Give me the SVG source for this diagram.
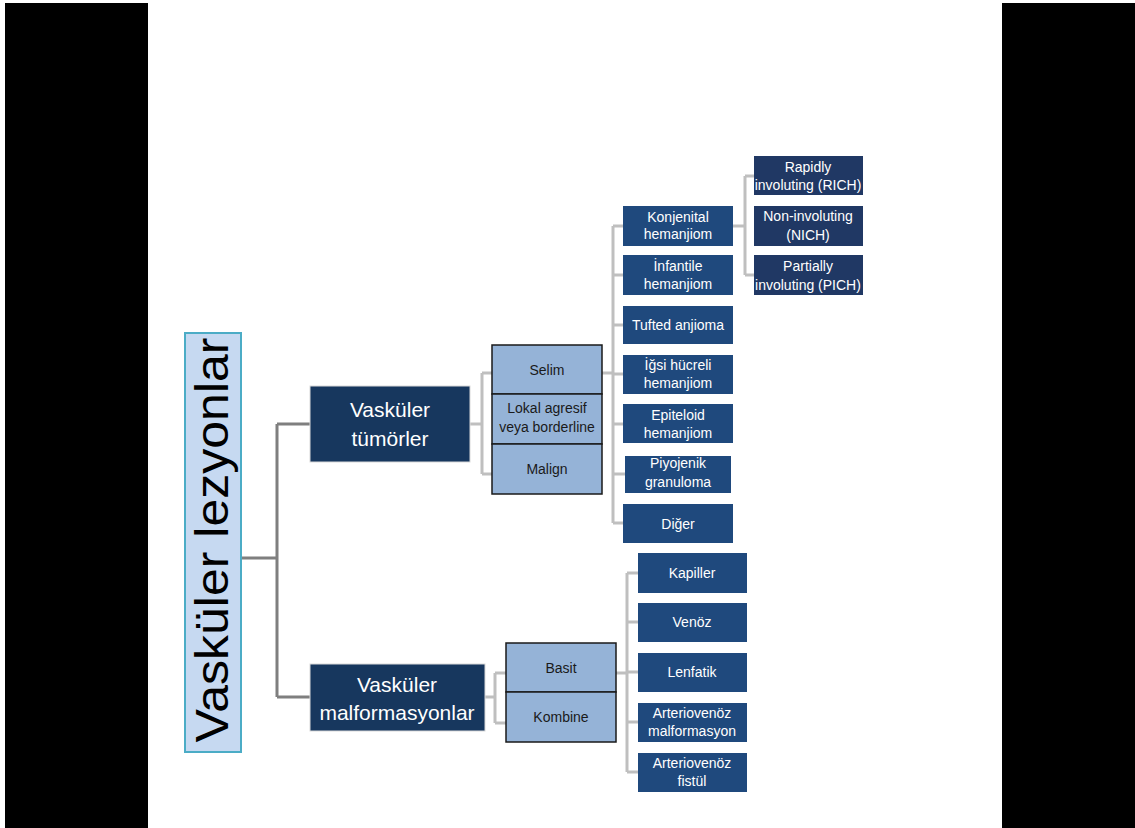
<svg xmlns="http://www.w3.org/2000/svg" width="1135" height="828" viewBox="0 0 1135 828">
<style>
.t{font-family:"Liberation Sans",Arial,sans-serif;text-anchor:middle;}
.w{fill:#ffffff;font-size:14px;}
.k{fill:#1a1a1a;font-size:14px;}
.big{fill:#ffffff;font-size:21px;}
.dk{fill:#17375e;stroke:#d9d9d9;stroke-width:1;}
.c1{fill:#1f497d;}
.c2{fill:#203864;}
.lb{fill:#95b3d7;stroke:#1a1a1a;stroke-width:1.5;}
.l1{fill:none;stroke:#7f7f7f;stroke-width:3;}
.l2{fill:none;stroke:#bfbfbf;stroke-width:3;}
</style>
<rect x="0" y="0" width="1135" height="828" fill="#ffffff"/>
<rect x="5" y="3" width="143" height="825" fill="#000000"/>
<rect x="1002" y="3" width="133" height="825" fill="#000000"/>

<g id="connectors">
<path class="l1" d="M241,558 H277 M277,424 V697 M277,424 H310 M277,697 H310"/>
<path class="l2" d="M470,424 H482 M482,373 V474 M482,373 H492 M482,474 H492"/>
<path class="l2" d="M602,373 H613 M613,226 V523 M613,226 H623 M613,275 H623 M613,325 H623 M613,374 H623 M613,424 H623 M613,474 H625 M613,523 H623"/>
<path class="l2" d="M733,226 H745 M745,176 V275 M745,176 H754 M745,275 H754"/>
<path class="l2" d="M485,697 H495 M495,673 V723 M495,673 H506 M495,723 H506"/>
<path class="l2" d="M616,673 H627 M627,573 V772 M627,573 H638 M627,622 H638 M627,672 H638 M627,722 H638 M627,772 H638"/>
</g>

<g id="root">
<rect x="185" y="333" width="56" height="419" fill="#c6d9f1" stroke="#4bacc6" stroke-width="2"/>
<text class="t" font-size="46" fill="#000000" transform="translate(228,540) rotate(-90)" textLength="405" lengthAdjust="spacingAndGlyphs">Vasküler lezyonlar</text>
</g>

<g id="tumorler">
<rect class="dk" x="310" y="386" width="160" height="76"/>
<text class="t big" x="390" y="417">Vasküler</text>
<text class="t big" x="390" y="446">tümörler</text>
</g>

<g id="malformasyonlar">
<rect class="dk" x="310" y="664" width="175" height="67"/>
<text class="t big" x="397" y="692">Vasküler</text>
<text class="t big" x="397" y="720">malformasyonlar</text>
</g>

<g id="selim">
<rect class="lb" x="492" y="345" width="110" height="49"/>
<text class="t k" x="547" y="375">Selim</text>
</g>
<g id="lokal">
<rect class="lb" x="492" y="394" width="110" height="50"/>
<text class="t k" x="547" y="413">Lokal agresif</text>
<text class="t k" x="547" y="432">veya borderline</text>
</g>
<g id="malign">
<rect class="lb" x="492" y="444" width="110" height="50"/>
<text class="t k" x="547" y="474">Malign</text>
</g>

<g id="konjenital">
<rect class="c1" x="623" y="206" width="110" height="40"/>
<text class="t w" x="678" y="222">Konjenital</text>
<text class="t w" x="678" y="239">hemanjiom</text>
</g>
<g id="infantile">
<rect class="c1" x="623" y="255" width="110" height="40"/>
<text class="t w" x="678" y="271">İnfantile</text>
<text class="t w" x="678" y="289">hemanjiom</text>
</g>
<g id="tufted">
<rect class="c1" x="623" y="306" width="110" height="38"/>
<text class="t w" x="678" y="330">Tufted anjioma</text>
</g>
<g id="igsi">
<rect class="c1" x="623" y="355" width="110" height="39"/>
<text class="t w" x="678" y="370">İğsi hücreli</text>
<text class="t w" x="678" y="388">hemanjiom</text>
</g>
<g id="epiteloid">
<rect class="c1" x="623" y="404" width="110" height="39"/>
<text class="t w" x="678" y="420">Epiteloid</text>
<text class="t w" x="678" y="438">hemanjiom</text>
</g>
<g id="piyojenik">
<rect class="c1" x="625" y="456" width="106" height="37"/>
<text class="t w" x="678" y="468">Piyojenik</text>
<text class="t w" x="678" y="487">granuloma</text>
</g>
<g id="diger">
<rect class="c1" x="623" y="504" width="110" height="39"/>
<text class="t w" x="678" y="529">Diğer</text>
</g>

<g id="rich">
<rect class="c2" x="754" y="156" width="109" height="39"/>
<text class="t w" x="808" y="172">Rapidly</text>
<text class="t w" x="808" y="190">involuting (RICH)</text>
</g>
<g id="nich">
<rect class="c2" x="754" y="206" width="109" height="40"/>
<text class="t w" x="808" y="221">Non-involuting</text>
<text class="t w" x="808" y="240">(NICH)</text>
</g>
<g id="pich">
<rect class="c2" x="754" y="255" width="109" height="40"/>
<text class="t w" x="808" y="271">Partially</text>
<text class="t w" x="808" y="290">involuting (PICH)</text>
</g>

<g id="basit">
<rect class="lb" x="506" y="643" width="110" height="49"/>
<text class="t k" x="561" y="673">Basit</text>
</g>
<g id="kombine">
<rect class="lb" x="506" y="692" width="110" height="50"/>
<text class="t k" x="561" y="722">Kombine</text>
</g>

<g id="kapiller">
<rect class="c1" x="638" y="553" width="109" height="40"/>
<text class="t w" x="692" y="578">Kapiller</text>
</g>
<g id="venoz">
<rect class="c1" x="638" y="603" width="109" height="39"/>
<text class="t w" x="692" y="627">Venöz</text>
</g>
<g id="lenfatik">
<rect class="c1" x="638" y="653" width="109" height="39"/>
<text class="t w" x="692" y="677">Lenfatik</text>
</g>
<g id="avm">
<rect class="c1" x="638" y="703" width="109" height="39"/>
<text class="t w" x="692" y="718">Arteriovenöz</text>
<text class="t w" x="692" y="736">malformasyon</text>
</g>
<g id="avf">
<rect class="c1" x="638" y="753" width="109" height="39"/>
<text class="t w" x="692" y="768">Arteriovenöz</text>
<text class="t w" x="692" y="786">fistül</text>
</g>
</svg>
